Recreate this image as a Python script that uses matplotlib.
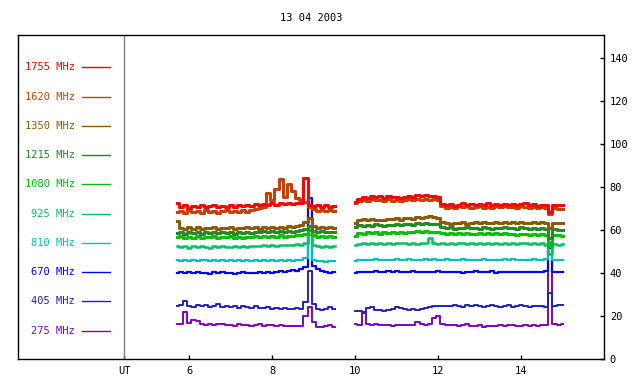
import numpy as np
import matplotlib
matplotlib.use("Agg")
import matplotlib.pyplot as plt

# observation date and channel list (top to bottom in the key)
title = "13 04 2003"
freqs = ["1755 MHz", "1620 MHz", "1350 MHz", "1215 MHz", "1080 MHz",
         "925 MHz", "810 MHz", "670 MHz", "405 MHz", "275 MHz"]
colors = ["#ff0000", "#c84000", "#8c5a00", "#228b22", "#00c000",
          "#00c060", "#00c0c0", "#0000ff", "#2020c0", "#8000c0"]
widths = [2.2, 2.2, 2.2, 2.2, 2.2, 1.8, 1.6, 1.6, 1.4, 1.4]

# time samples (UT hours) for the two recording blocks
t1 = np.round(np.arange(5.7, 9.55, 0.1), 2)
t2 = np.round(np.arange(10.0, 15.05, 0.1), 2)

# block 1 (5.7 - 9.5 UT)
r1 = [72.5, 71.0, 71.8, 70.6, 71.5, 70.9, 71.7, 70.8, 71.2, 71.9, 70.7, 71.4, 70.9, 71.6, 71.0, 71.8, 71.2, 72.0, 71.5, 72.3,
      71.8, 72.4, 72.0, 72.6, 71.9, 72.5, 72.1, 72.8, 72.2, 72.6, 72.9, 84.5, 72.0, 71.2, 71.8, 70.9, 71.6, 71.0, 71.4]
o1 = [68.5, 69.2, 68.0, 69.4, 68.6, 69.0, 67.9, 69.3, 68.4, 69.1, 68.2, 68.8, 69.5, 68.3, 69.0, 68.6, 69.3, 68.7, 69.6, 69.8,
      70.2, 71.0, 77.5, 74.0, 79.0, 84.0, 75.5, 81.5, 78.5, 75.0, 74.0, 73.0, 71.0, 69.8, 69.0, 69.6, 68.8, 69.4, 68.9]
b1 = [64.5, 61.2, 60.5, 61.6, 60.8, 61.4, 60.6, 61.3, 60.9, 61.7, 60.7, 61.2, 61.0, 61.5, 60.8, 61.3, 60.9, 61.6, 61.1, 61.4,
      60.8, 61.5, 61.2, 61.7, 61.0, 61.6, 61.3, 61.8, 61.4, 62.0, 62.6, 64.0, 65.5, 62.0, 61.3, 61.7, 61.0, 61.5, 61.2]
g1 = [58.6, 59.2, 58.4, 59.0, 58.7, 59.3, 58.5, 59.1, 58.8, 59.4, 58.6, 59.0, 58.9, 59.3, 58.5, 59.1, 58.8, 59.2, 58.7, 59.3,
      59.0, 59.5, 59.1, 59.6, 59.2, 59.5, 59.0, 59.7, 59.3, 59.8, 60.0, 60.6, 62.0, 59.8, 59.2, 59.6, 59.0, 59.4, 59.1]
l1 = [56.8, 57.3, 56.2, 57.0, 56.6, 57.2, 56.4, 57.1, 56.7, 57.3, 56.3, 56.9, 56.7, 57.2, 56.5, 57.0, 56.6, 57.1, 56.8, 57.3,
      56.9, 57.4, 57.0, 57.5, 57.1, 57.6, 57.0, 57.5, 57.3, 57.8, 58.0, 58.5, 60.0, 57.6, 57.0, 57.4, 56.8, 57.2, 56.9]
e1 = [52.6, 52.2, 52.8, 52.0, 52.5, 52.1, 52.7, 52.3, 52.0, 52.6, 52.2, 52.7, 52.4, 52.1, 52.6, 52.3, 52.8, 52.2, 52.5, 52.9,
      52.6, 53.0, 52.7, 53.2, 52.9, 53.3, 53.0, 53.4, 53.1, 53.5, 53.3, 54.0, 58.5, 53.0, 52.6, 52.3, 52.8, 52.2, 52.5]
c1 = [46.0, 45.8, 46.2, 45.9, 46.1, 45.7, 46.0, 46.3, 45.8, 46.1, 45.9, 46.2, 45.8, 46.0, 45.6, 46.1, 45.9, 46.3, 45.7, 46.0,
      45.8, 46.2, 45.9, 46.1, 45.7, 46.0, 45.8, 46.1, 45.9, 46.2, 46.3, 47.0, 58.0, 46.0, 45.6, 45.8, 45.4, 45.7, 45.5]
v1 = [40.2, 40.5, 40.0, 40.4, 40.1, 40.6, 40.2, 40.3, 39.9, 40.4, 40.1, 40.5, 40.0, 40.3, 39.8, 40.2, 40.4, 40.0, 40.3, 40.1,
      40.5, 40.2, 40.6, 40.3, 40.7, 41.0, 40.6, 41.2, 41.5, 41.0, 42.0, 43.0, 75.0, 43.5, 42.0, 41.2, 40.6, 40.2, 40.4]
d1 = [24.8, 25.4, 27.0, 25.0, 24.4, 25.3, 24.6, 25.1, 24.3, 24.9, 25.5, 24.5, 24.9, 24.2, 24.8, 24.0, 24.7, 24.3, 23.9, 24.6,
      24.0, 23.8, 24.2, 23.6, 23.9, 23.4, 23.8, 23.5, 23.2, 23.7, 23.6, 26.5, 41.0, 25.5, 23.2, 23.0, 23.4, 24.5, 23.3]
p1 = [16.2, 16.5, 22.0, 16.8, 18.5, 17.8, 16.3, 16.0, 16.4, 15.8, 16.2, 16.6, 15.9, 16.1, 15.6, 16.3, 15.8, 16.0, 15.7, 15.9,
      16.2, 15.6, 15.9, 16.0, 15.5, 15.8, 15.4, 15.7, 15.5, 15.3, 15.6, 20.0, 24.5, 17.5, 15.2, 15.0, 15.4, 15.8, 15.1]

# block 2 (10.0 - 15.0 UT)
r2 = [73.0, 74.8, 75.6, 75.2, 76.0, 75.4, 75.8, 75.1, 75.9, 75.3, 75.7, 75.0, 75.6, 76.1, 75.5, 76.2, 75.8, 76.3, 75.9, 76.0,
      75.6, 72.4, 71.8, 72.2, 71.5, 72.0, 72.6, 71.7, 72.1, 71.6, 72.3, 71.9, 72.5, 71.8, 72.2, 71.7, 72.4, 71.9, 72.3, 71.6,
      72.1, 72.5, 71.8, 72.2, 71.5, 72.0, 71.7, 68.5, 72.0, 71.6, 71.9]
o2 = [72.5, 73.8, 74.3, 73.6, 74.5, 73.9, 74.2, 73.5, 74.4, 73.8, 74.1, 73.6, 74.3, 74.6, 73.9, 74.7, 74.2, 74.8, 74.3, 74.5,
      74.0, 71.2, 70.6, 71.0, 70.4, 71.1, 70.7, 71.3, 70.5, 70.9, 71.2, 70.6, 71.0, 70.4, 71.1, 70.7, 71.3, 70.8, 71.0, 70.5,
      71.2, 70.9, 70.4, 71.0, 70.6, 70.9, 70.3, 67.5, 70.5, 70.0, 69.8]
b2 = [63.5, 64.8, 65.2, 64.6, 65.3, 64.9, 65.0, 64.7, 65.4, 65.1, 65.6, 65.0, 65.5, 65.8, 65.3, 66.0, 65.6, 66.2, 66.5, 66.0,
      65.8, 64.0, 63.4, 63.0, 63.6, 63.2, 63.7, 63.1, 63.5, 63.9, 63.3, 63.8, 63.2, 63.6, 64.0, 63.4, 63.9, 63.3, 63.7, 63.5,
      64.0, 63.6, 63.2, 63.8, 63.4, 63.7, 63.3, 61.0, 63.6, 63.2, 63.5]
g2 = [61.5, 62.3, 62.0, 62.6, 62.2, 62.8, 62.4, 62.1, 62.7, 62.3, 62.9, 62.5, 62.8, 63.0, 62.6, 63.2, 62.9, 63.3, 63.0, 63.1,
      62.8, 61.6, 61.0, 61.4, 60.8, 61.3, 60.9, 61.5, 61.0, 61.2, 60.7, 61.4, 61.1, 60.8, 61.3, 60.9, 61.5, 61.0, 61.2, 60.8,
      61.4, 61.0, 60.7, 61.1, 60.6, 61.0, 60.5, 56.5, 60.4, 60.0, 60.3]
l2 = [57.5, 58.8, 58.4, 59.1, 58.6, 59.0, 58.5, 59.2, 58.7, 59.1, 58.8, 59.3, 58.9, 59.4, 59.0, 59.5, 59.1, 59.6, 59.2, 59.4,
      59.0, 58.6, 58.2, 58.7, 58.3, 58.8, 58.4, 58.9, 58.5, 58.2, 58.7, 58.3, 58.8, 58.4, 58.6, 58.1, 58.7, 58.3, 58.5, 58.0,
      58.4, 58.2, 57.9, 58.3, 57.8, 58.1, 57.7, 52.5, 57.6, 57.9, 57.5]
e2 = [53.0, 53.8, 54.2, 53.7, 54.1, 53.6, 54.0, 53.8, 54.3, 53.7, 54.1, 53.9, 54.2, 53.6, 54.0, 53.8, 54.2, 53.9, 56.2, 54.0,
      53.8, 54.1, 53.6, 54.0, 53.5, 53.9, 54.2, 53.7, 54.1, 53.8, 54.0, 53.6, 54.2, 53.8, 54.1, 53.7, 54.0, 53.6, 54.1, 53.8,
      54.2, 53.9, 53.5, 54.0, 53.7, 53.9, 53.4, 49.0, 53.6, 53.2, 53.5]
c2 = [45.8, 46.2, 46.0, 46.4, 46.1, 46.5, 46.2, 46.0, 46.4, 46.1, 46.6, 46.3, 46.0, 46.5, 46.2, 46.4, 46.1, 46.6, 46.3, 46.8,
      46.4, 46.2, 46.5, 46.0, 46.3, 46.1, 46.5, 46.2, 46.0, 46.4, 46.1, 46.6, 46.3, 46.0, 46.4, 46.2, 46.5, 46.1, 46.7, 46.3,
      46.0, 46.4, 46.2, 46.5, 46.1, 46.3, 46.8, 53.5, 46.4, 46.0, 46.2]
v2 = [40.3, 40.6, 40.4, 40.8, 40.5, 40.9, 40.6, 40.8, 41.0, 40.7, 40.9, 40.6, 40.8, 40.5, 40.9, 40.6, 40.7, 40.4, 40.8, 40.5,
      40.9, 40.6, 40.4, 40.8, 40.5, 40.7, 40.3, 40.8, 40.5, 40.9, 40.4, 40.7, 40.5, 40.9, 40.3, 40.8, 40.6, 40.4, 40.7, 40.5,
      40.8, 40.6, 40.4, 40.7, 40.5, 40.8, 41.0, 52.0, 40.6, 40.5, 40.6]
d2 = [22.3, 22.5, 22.2, 23.8, 24.2, 22.9, 23.1, 22.6, 23.0, 23.6, 24.1, 23.8, 23.3, 23.0, 23.2, 22.9, 23.4, 23.8, 24.3, 24.6,
      24.9, 24.6, 25.0, 24.7, 25.3, 24.8, 24.5, 25.2, 24.7, 25.4, 24.9, 24.3, 24.8, 25.3, 24.6, 24.2, 24.7, 25.1, 24.5, 24.9,
      25.3, 24.7, 24.4, 24.9, 24.6, 25.0, 24.4, 31.0, 25.0, 25.2, 25.1]
p2 = [16.3, 16.0, 21.5, 16.4, 15.9, 16.2, 15.8, 16.1, 16.0, 15.7, 15.9, 16.1, 15.8, 16.0, 15.9, 17.5, 16.2, 16.0, 16.6, 19.0,
      20.0, 16.3, 16.0, 15.8, 16.1, 15.7, 15.9, 16.2, 15.6, 15.4, 15.8, 15.2, 15.5, 15.7, 15.3, 15.9, 15.6, 15.8, 16.0, 15.7,
      15.5, 15.9, 15.6, 15.8, 15.7, 16.0, 15.8, 54.0, 16.4, 16.1, 16.3]

block1 = [r1, o1, b1, g1, l1, e1, c1, v1, d1, p1]
block2 = [r2, o2, b2, g2, l2, e2, c2, v2, d2, p2]

xticks = [6, 8, 10, 12, 14]
yticks = [0, 20, 40, 60, 80, 100, 120, 140]
ut_pos = 4.43   # separator between the key and the data

plt.rcParams['font.family'] = ['DejaVu Sans Mono']
plt.rcParams['font.size'] = 7.5

fig = plt.figure(figsize=(6.4, 3.84), dpi=100)
ax = fig.add_axes([0.0286, 0.0643, 0.9156, 0.8437])

# lowest frequency first so the red channel ends up on top
for i in reversed(range(len(freqs))):
    ax.plot(t1, block1[i], color=colors[i], lw=widths[i], drawstyle='steps-mid')
    ax.plot(t2, block2[i], color=colors[i], lw=widths[i], drawstyle='steps-mid')

# channel key on the left
for i, (name, col) in enumerate(zip(freqs, colors)):
    y = 135.8 - 13.6 * i
    ax.text(3.25, y, name, color=col, ha='right', va='center')
    ax.plot([3.42, 4.09], [y, y], color=col, lw=1)

ax.axvline(ut_pos, color='#808080', lw=1)

ax.set_xlim(1.88, 16.0)
ax.set_ylim(0, 150.7)
ax.set_xticks([ut_pos] + xticks)
ax.set_xticklabels(['UT'] + [str(x) for x in xticks])
ax.set_yticks(yticks)
ax.yaxis.tick_right()
ax.tick_params(direction='in', length=3, width=1, colors='black', pad=4)
ax.tick_params(axis='x', which='major', pad=5)
for s in ax.spines.values():
    s.set_linewidth(1)

fig.text(0.486, 1 - 18 / 384, title, ha='center', va='center')

fig.savefig("out.png", dpi=100)
